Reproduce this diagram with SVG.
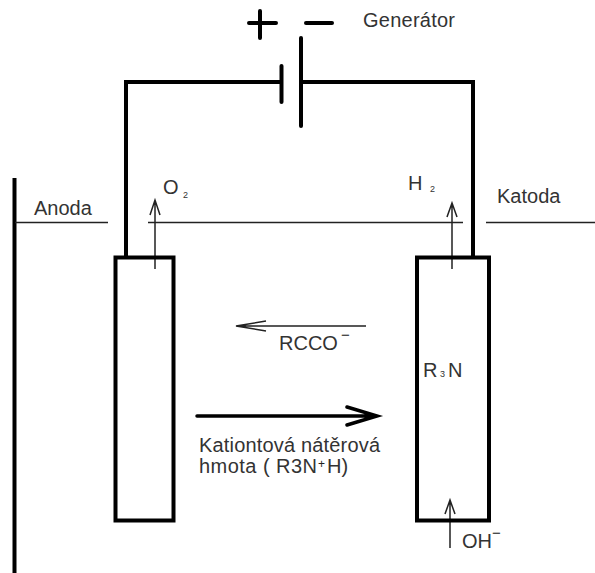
<svg xmlns="http://www.w3.org/2000/svg" width="595" height="573" viewBox="0 0 595 573">
<style>
text{font-family:"Liberation Sans",Arial,sans-serif;fill:#333;font-size:20px}
.sub{font-size:9px}
.sup{font-size:15px;fill:#222}
.plus{font-size:12px;fill:#222}
.thick{fill:none;stroke:#000;stroke-width:4}
.cap{fill:none;stroke:#000;stroke-width:4;stroke-linecap:round}
.thin{fill:none;stroke:#222;stroke-width:1.500}
</style>
<rect width="595" height="573" fill="#fff"/>
<g id="connectors">
<path class="thick" d="M126 257V82H281M301 82H473V257"/>
<path class="thick" d="M14.500 178V573"/>
<path class="thin" d="M15 222.500H108M148 222.500H463M486 222.500H595"/>
<path class="thin" d="M155 269V200M150 215L155 200L160 215"/>
<path class="thin" d="M452 269V203M447 217L452 203L457 217"/>
<path class="thin" d="M366 326H236M266 321L236 326L266 331"/>
<path class="thin" d="M450 548V500M445 514L450 500L455 514"/>
<path d="M197 416H375M347 407L377 416L347 425" fill="none" stroke="#000" stroke-width="3.500" stroke-linecap="round"/>
</g>
<g id="generator">
<path class="cap" d="M281.500 66V102"/>
<path class="cap" d="M301 38V126"/>
<path class="cap" d="M260 11V38M249 23H276"/>
<path class="cap" d="M306 23H332"/>
<text x="363" y="27" textLength="92">Generátor</text>
</g>
<g id="anode">
<rect class="thick" x="115.500" y="257.500" width="58" height="263"/>
<text x="34" y="215">Anoda</text>
<text x="163" y="194">O</text><text class="sub" x="183" y="198">2</text>
</g>
<g id="cathode">
<rect class="thick" x="417" y="257.500" width="72" height="263"/>
<text x="408" y="190">H</text><text class="sub" x="430" y="192">2</text>
<text x="497" y="203">Katoda</text>
<text x="423" y="377">R</text><text class="sub" x="440" y="377">3</text><text x="448" y="377">N</text>
<text x="462" y="548">OH</text><text class="sup" x="492" y="538">−</text>
</g>
<g id="labels">
<text x="279" y="350">RCCO</text><text class="sup" x="341" y="340">−</text>
<text x="199" y="452" textLength="181">Kationtová nátěrová</text>
<text x="199" y="473" textLength="118">hmota ( R3N</text><text class="plus" x="318" y="468">+</text><text x="327" y="473">H)</text>
</g>
</svg>
